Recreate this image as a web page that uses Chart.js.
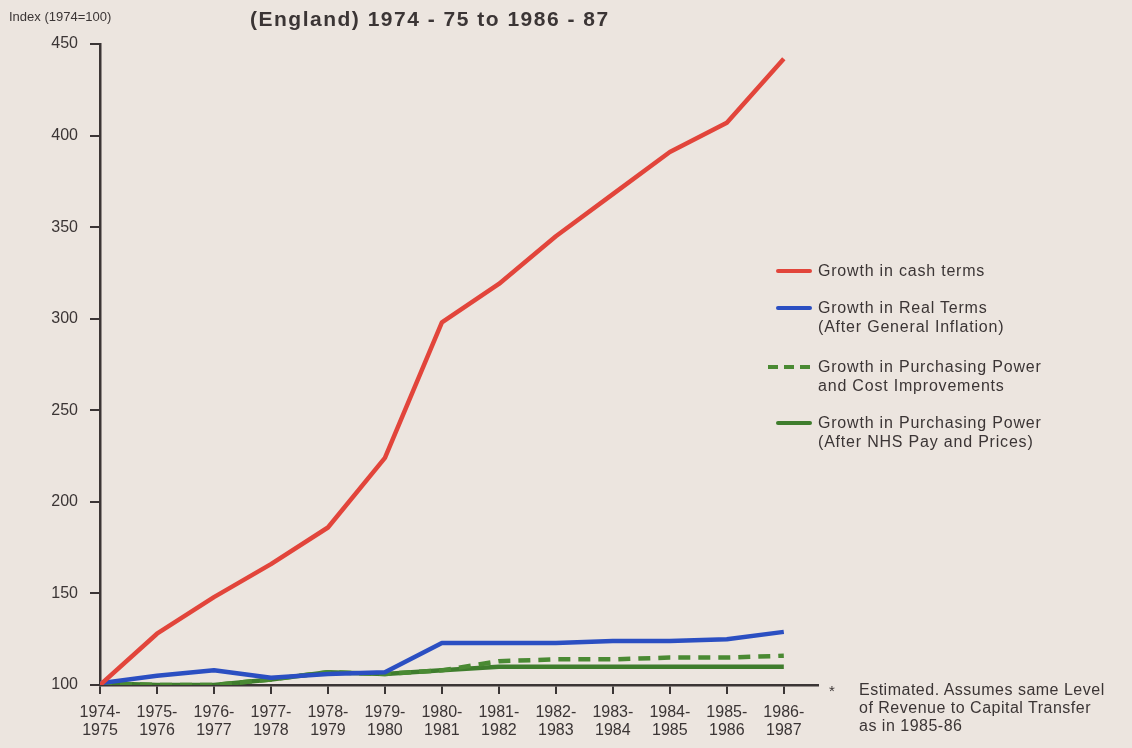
<!DOCTYPE html>
<html>
<head>
<meta charset="utf-8">
<script src="https://cdn.jsdelivr.net/npm/chart.js@4.4.1/dist/chart.umd.min.js"></script>
<style>
    body { margin: 0; background: #ece5df; }
    #wrap { position: relative; width: 1132px; height: 748px; background: #ece5df; color: #3b3535;
            font-family: "Liberation Sans", Arial, sans-serif; overflow: hidden; }
    #wrap canvas { position: absolute; left: 0; top: 0; }
    .txt { position: absolute; white-space: nowrap; }
    #indexLabel { left: 9px; top: 9px; font-size: 13px; }
    #title { left: 250px; top: 7px; font-size: 21px; font-weight: bold; letter-spacing: 1.5px; }
    .legend-item { position: absolute; left: 770px; }
    .legend-item .swatch { position: absolute; top: 8px; height: 4px; border-radius: 2px; }
    .legend-item .label { position: absolute; left: 48px; top: 0; font-size: 16px; letter-spacing: 0.8px; line-height: 19px; white-space: nowrap; }
    #star { left: 829px; top: 682px; font-size: 15px; }
    #note { left: 859px; top: 681px; font-size: 16px; letter-spacing: 0.5px; line-height: 18px; }
</style>
</head>
<body>
<div id="wrap">
    <canvas id="chart" width="1132" height="748"></canvas>
    <div class="txt" id="indexLabel">Index (1974=100)</div>
    <div class="txt" id="title">(England) 1974 - 75 to 1986 - 87</div>
    <div id="legend"></div>
    <div class="txt" id="star">*</div>
    <div class="txt" id="note">Estimated. Assumes same Level<br>of Revenue to Capital Transfer<br>as in 1985-86</div>
</div>
<script>
// tick labels along the bottom (financial years)
const yearLabels = [
    ["1974-", "1975"], ["1975-", "1976"], ["1976-", "1977"], ["1977-", "1978"],
    ["1978-", "1979"], ["1979-", "1980"], ["1980-", "1981"], ["1981-", "1982"],
    ["1982-", "1983"], ["1983-", "1984"], ["1984-", "1985"], ["1985-", "1986"],
    ["1986-", "1987"]
];

// index values, 1974 = 100
const cashTerms     = [100, 128, 148, 166, 186, 224, 298, 319, 345, 368, 391, 407, 442];
const realTerms     = [101, 105, 108, 104, 106, 107, 123, 123, 123, 124, 124, 125, 129];
const costImprove   = [101, 100, 100, 103, 107, 106, 108, 113, 114, 114, 115, 115, 116];
const nhsPayPrices  = [101, 100, 100, 103, 107, 106, 108, 110, 110, 110, 110, 110, 110];

const yTicks = [100, 150, 200, 250, 300, 350, 400, 450];

const seriesNames = [
    ["Growth in cash terms"],
    ["Growth in Real Terms", "(After General Inflation)"],
    ["Growth in Purchasing Power", "and Cost Improvements"],
    ["Growth in Purchasing Power", "(After NHS Pay and Prices)"]
];

const ink = "#3b3535";
const colours = ["#e2453b", "#2b4fc2", "#4a8a33", "#3f7d2d"];

function toPoints(values) {
    return values.map(function (v, i) { return { x: i, y: v }; });
}

function lineSet(label, values, colour, dash) {
    return {
        label: label.join(" "),
        data: toPoints(values),
        borderColor: colour,
        backgroundColor: colour,
        borderWidth: 4.5,
        borderDash: dash || [],
        borderJoinStyle: "round",
        pointRadius: 0,
        tension: 0,
        fill: false
    };
}

Chart.defaults.font.family = "'Liberation Sans', Arial, sans-serif";
Chart.defaults.color = ink;

new Chart(document.getElementById("chart"), {
    type: "line",
    data: {
        datasets: [
            lineSet(seriesNames[0], cashTerms, colours[0]),
            lineSet(seriesNames[1], realTerms, colours[1]),
            lineSet(seriesNames[2], costImprove, colours[2], [12, 8]),
            lineSet(seriesNames[3], nhsPayPrices, colours[3])
        ]
    },
    options: {
        responsive: false,
        animation: false,
        layout: { padding: { top: 44, right: 314, left: 0, bottom: 0 } },
        plugins: {
            legend: { display: false },
            tooltip: { enabled: false },
            title: { display: false }
        },
        scales: {
            x: {
                type: "linear",
                min: 0,
                max: 12.6,
                bounds: "data",
                afterFit: function (scale) { scale.height = 63; },
                border: { display: true, color: ink, width: 2.5 },
                grid: { drawOnChartArea: false, drawTicks: true, tickLength: 9, color: ink, lineWidth: 2 },
                ticks: {
                    stepSize: 1,
                    includeBounds: false,
                    maxTicksLimit: 20,
                    autoSkip: false,
                    maxRotation: 0,
                    padding: 9,
                    font: { size: 16, lineHeight: 1.15 },
                    callback: function (v) {
                        return Number.isInteger(v) ? yearLabels[v] : "";
                    }
                }
            },
            y: {
                min: yTicks[0],
                max: yTicks[yTicks.length - 1],
                afterFit: function (scale) { scale.width = 100; },
                border: { display: true, color: ink, width: 2.5 },
                grid: { drawOnChartArea: false, drawTicks: true, tickLength: 10, color: ink, lineWidth: 2 },
                ticks: {
                    stepSize: yTicks[1] - yTicks[0],
                    padding: 12,
                    font: { size: 16 }
                }
            }
        }
    }
});

// Legend, drawn beside the lines
const legendTops = [261, 298, 357, 413];
const legendBox = document.getElementById("legend");
seriesNames.forEach(function (name, i) {
    const item = document.createElement("div");
    item.className = "legend-item";
    item.style.top = legendTops[i] + "px";

    const sw = document.createElement("div");
    sw.className = "swatch";
    if (i === 2) {
        sw.style.left = "-2px";
        sw.style.width = "42px";
        sw.style.borderRadius = "0";
        sw.style.background = "repeating-linear-gradient(90deg, " + colours[i] + " 0 10px, transparent 10px 16px)";
    } else {
        sw.style.left = "6px";
        sw.style.width = "36px";
        sw.style.background = colours[i];
    }
    item.appendChild(sw);

    const lab = document.createElement("div");
    lab.className = "label";
    lab.innerHTML = name.join("<br>");
    item.appendChild(lab);

    legendBox.appendChild(item);
});
</script>
</body>
</html>
